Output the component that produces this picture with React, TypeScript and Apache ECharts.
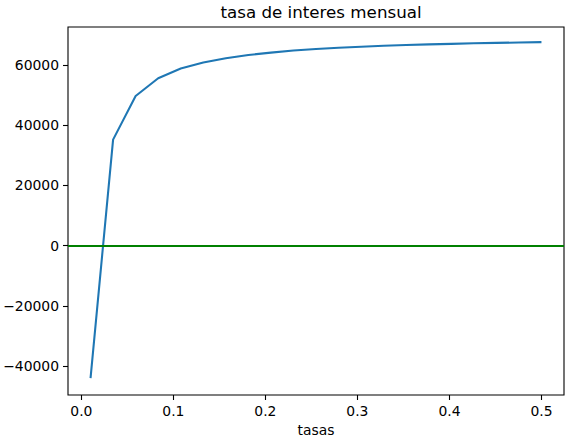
import React, { useEffect, useRef } from 'react';
import * as echarts from 'echarts';

// tasas (x) y valores (y)
const tasas = [
  0.01, 0.0345, 0.059, 0.0835, 0.108, 0.1325, 0.157, 0.1815, 0.206, 0.2305, 0.255,
  0.2795, 0.304, 0.3285, 0.353, 0.3775, 0.402, 0.4265, 0.451, 0.4755, 0.5,
];
const valores = [
  -44000, 35200, 49700, 55600, 58800, 60800, 62200, 63300, 64100, 64800, 65300,
  65700, 66050, 66350, 66600, 66820, 67010, 67180, 67330, 67460, 67580,
];
const xTicks = [0, 0.1, 0.2, 0.3, 0.4, 0.5];
const yTicks = [-40000, -20000, 0, 20000, 40000, 60000];

const FONT = 'DejaVu Sans';

const App = () => {
  const chartRef = useRef(null);

  useEffect(() => {
    const chartDom = chartRef.current;
    if (!chartDom) return;

    const myChart = echarts.init(chartDom, null, { renderer: 'svg' });

    const fmtY = (v: number) => (v < 0 ? '\u2212' + Math.abs(v) : String(v));

    const option = {
      animation: false,
      title: {
        text: 'tasa de interes mensual',
        left: 316,
        textAlign: 'center',
        top: -2,
        textStyle: { fontFamily: FONT, fontSize: 16.7, fontWeight: 'normal', color: '#000' },
      },
      grid: {
        left: 68,
        right: 8,
        top: 27,
        bottom: 44,
        outerBoundsMode: 'none',
        containLabel: false,
        show: true,
        borderColor: '#000',
        borderWidth: 1.1,
        backgroundColor: 'transparent',
      },
      xAxis: {
        type: 'value',
        min: -0.0145,
        max: 0.5245,
        name: 'tasas',
        nameLocation: 'middle',
        nameGap: 27,
        nameTextStyle: { fontFamily: FONT, fontSize: 13.9, color: '#000' },
        axisLine: { show: false, onZero: false },
        axisTick: { show: true, inside: false, length: 5, customValues: xTicks, lineStyle: { color: '#000', width: 1.1 } },
        axisLabel: {
          customValues: xTicks,
          margin: 9,
          fontFamily: FONT,
          fontSize: 13.9,
          color: '#000',
          formatter: (v: number) => v.toFixed(1),
        },
        splitLine: { show: false },
      },
      yAxis: {
        type: 'value',
        min: -49580,
        max: 72600,
        axisLine: { show: false, onZero: false },
        axisTick: { show: true, inside: false, length: 5, customValues: yTicks, lineStyle: { color: '#000', width: 1.1 } },
        axisLabel: {
          customValues: yTicks,
          margin: 9,
          fontFamily: FONT,
          fontSize: 13.9,
          color: '#000',
          formatter: fmtY,
        },
        splitLine: { show: false },
      },
      series: [
        {
          type: 'line',
          data: tasas.map((t, i) => [t, valores[i]]),
          showSymbol: false,
          symbol: 'none',
          lineStyle: { color: '#1f77b4', width: 2.08 },
          markLine: {
            silent: true,
            symbol: ['none', 'none'],
            label: { show: false },
            lineStyle: { color: '#008000', width: 2.08, type: 'solid' },
            data: [{ yAxis: 0 }],
          },
        },
      ],
    };

    myChart.setOption(option);

    return () => {
      myChart.dispose();
    };
  }, []);

  return (
    <div
      ref={chartRef}
      style={{ position: 'fixed', left: 0, top: 0, width: '572px', height: '439px', background: '#fff' }}
    ></div>
  );
};

export default App;
